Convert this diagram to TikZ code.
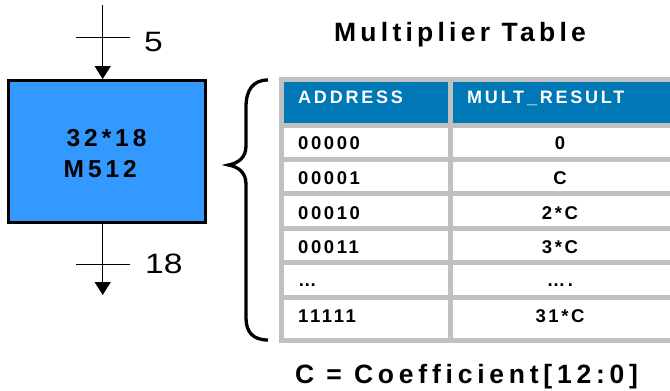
\documentclass[tikz,border=0pt]{standalone}
\usepackage{fontspec}
\setmainfont{Liberation Sans}
\newfontfamily\titlefont{Liberation Sans}[LetterSpace=16]
\newfontfamily\notefont{Liberation Sans}[LetterSpace=18]
\newfontfamily\headfont{Liberation Sans}[LetterSpace=15.5]
\newfontfamily\cellfont{Liberation Sans}[LetterSpace=14]
\newfontfamily\boxfont{Liberation Sans}[LetterSpace=16]
\newfontfamily\busfont{Liberation Sans}[FakeStretch=1.2]
\usetikzlibrary{arrows.meta}
\definecolor{boxblue}{RGB}{51,153,255}
\definecolor{headblue}{RGB}{0,120,182}
\definecolor{gridgray}{RGB}{192,192,192}
\begin{document}
\begin{tikzpicture}[x=1pt,y=-1pt,
  txt/.style={inner sep=0pt, anchor=base west},
  ctxt/.style={inner sep=0pt, anchor=base},
  sig/.style={line width=1.3pt, -{Triangle[length=13pt,width=16pt]}},
  tick/.style={line width=1pt},
  celltext/.style={font=\cellfont\bfseries\fontsize{18.5}{20}\selectfont},
  headtext/.style={font=\headfont\bfseries\fontsize{18}{20}\selectfont, text=white},
  bustext/.style={font=\busfont\fontsize{28}{30}\selectfont},
  boxtext/.style={font=\boxfont\bfseries\fontsize{24.5}{26}\selectfont}]
\useasboundingbox (0,0) rectangle (670,391);

% multiplier block
\node[draw=black, line width=3.3pt, fill=boxblue, minimum width=196.6pt,
      minimum height=141.6pt, inner sep=0pt] (box) at (107,151.5) {};
\node[txt, boxtext] (l1) at (66.5,146) {32*18};
\node[txt, boxtext] (l2) at (63.5,177) {M512};

% input and output buses
\coordinate (in) at (102.7,5);
\coordinate (out) at (102.7,295);
\draw[sig] (in) -- (in |- box.north);
\draw[sig] (out |- box.south) -- (out);
\coordinate (t1a) at (76,37.7);
\coordinate (t1b) at (130,37.7);
\coordinate (t2a) at (76,264);
\coordinate (t2b) at (130,264);
\draw[tick] (t1a) -- (t1b);
\draw[tick] (t2a) -- (t2b);
\node[txt, bustext] (w1) at (144,51.7) {5};
\node[txt, bustext] (w2) at (145,273) {18};

% brace
\draw[line width=3.3pt]
  (268,80) .. controls (253,80) and (246,90) .. (246,107)
  -- (246,146) .. controls (246,157) and (239,163) .. (228.5,165)
  .. controls (239,167) and (246,173) .. (246,184)
  -- (246,318) .. controls (246,332) and (253,340) .. (268,340);

% title
\node[txt, font=\titlefont\bfseries\fontsize{26.5}{28}\selectfont] (title) at (334,41.7) {Multiplier Table};

% table
\fill[gridgray] (278.5,76.5) rectangle (672,343);
\fill[headblue] (284,81.5) rectangle (447.5,122.5);
\fill[headblue] (452.5,81.5) rectangle (672,122.5);
\foreach \ya/\yb in {127.5/157.2, 162.2/190.8, 195.8/225.5, 230.5/259.5, 264.5/294.5, 299.5/338}{
  \fill[white] (284,\ya) rectangle (447.5,\yb);
  \fill[white] (452.5,\ya) rectangle (672,\yb);
}
\node[txt, headtext] (h1) at (298,103.3) {ADDRESS};
\node[txt, headtext] (h2) at (467,103.3) {MULT\_RESULT};

\node[txt, celltext] (a1) at (298,149.3) {00000};
\node[txt, celltext] (a2) at (298,184) {00001};
\node[txt, celltext] (a3) at (298,219) {00010};
\node[txt, celltext] (a4) at (298,253.3) {00011};
\node[txt, celltext] (a5) at (298,286.7) {…};
\node[txt, celltext] (a6) at (298,322.7) {11111};

\node[ctxt, celltext] (r1) at (560,149.3) {0};
\node[ctxt, celltext] (r2) at (560,184) {C};
\node[ctxt, celltext] (r3) at (560,219) {2*C};
\node[ctxt, celltext] (r4) at (560,253.3) {3*C};
\node[ctxt, celltext] (r5) at (560,286.7) {….};
\node[ctxt, celltext] (r6) at (560,322.7) {31*C};

% note
\node[txt, font=\notefont\bfseries\fontsize{26.5}{28}\selectfont] (note) at (295,383) {C = Coefficient[12:0]};
\end{tikzpicture}
\end{document}
